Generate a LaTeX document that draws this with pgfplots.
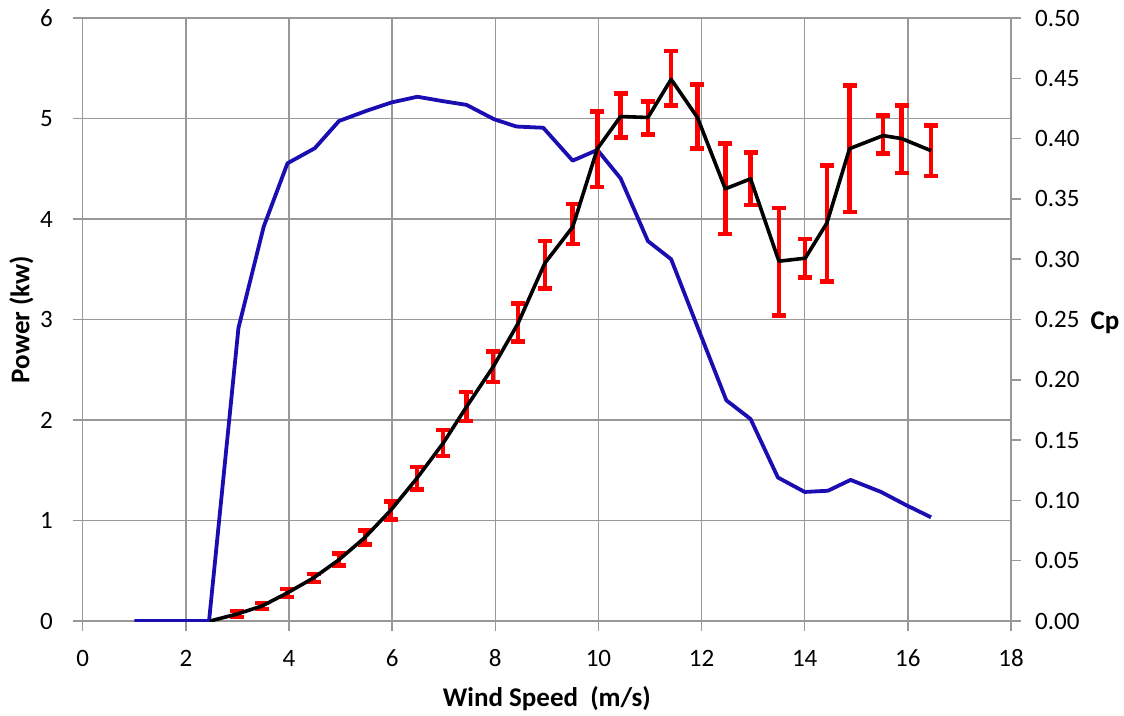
\documentclass[border=0pt]{standalone}
\usepackage{pgfplots}
\pgfplotsset{compat=1.18}
\usepackage{pgfplotstable}
\usepackage{fontspec}
\setmainfont{Carlito}
\definecolor{gridgray}{RGB}{152,152,152}
\definecolor{cpblue}{RGB}{26,14,178}
\definecolor{errred}{RGB}{255,0,0}

\pgfplotstableread{
x y ep em
2.47 0.00 0.00 0.00
3.00 0.07 0.03 0.03
3.48 0.15 0.03 0.03
3.97 0.28 0.04 0.04
4.48 0.43 0.04 0.04
4.97 0.61 0.06 0.06
5.47 0.83 0.07 0.07
5.97 1.10 0.09 0.09
6.48 1.42 0.11 0.11
6.99 1.77 0.13 0.13
7.44 2.13 0.15 0.14
7.96 2.53 0.15 0.15
8.44 2.96 0.20 0.18
8.96 3.56 0.22 0.25
9.50 3.92 0.23 0.17
9.98 4.70 0.37 0.38
10.43 5.02 0.23 0.21
10.96 5.01 0.16 0.17
11.41 5.39 0.28 0.26
11.92 5.01 0.33 0.31
12.46 4.30 0.45 0.45
12.95 4.40 0.26 0.26
13.50 3.58 0.53 0.54
14.01 3.61 0.19 0.19
14.43 3.96 0.57 0.58
14.87 4.70 0.63 0.63
15.52 4.83 0.20 0.18
15.88 4.80 0.33 0.34
16.45 4.68 0.25 0.25
}\powertable

\pgfplotstableread{
x cp
1.00 0.000
2.45 0.000
3.02 0.243
3.51 0.327
3.97 0.3795
4.50 0.392
4.97 0.4146
5.50 0.423
5.99 0.430
6.49 0.4347
6.99 0.431
7.44 0.428
7.98 0.416
8.41 0.410
8.93 0.409
9.50 0.3817
9.98 0.3906
10.43 0.367
10.96 0.315
11.41 0.300
11.92 0.244
12.48 0.183
12.95 0.1675
13.48 0.119
14.00 0.107
14.45 0.108
14.89 0.117
15.48 0.107
15.97 0.096
16.45 0.086
}\cptable

\pgfplotsset{
  base/.style={
    at={(82.7pt,94pt)}, anchor=south west,
    scale only axis, width=928.3pt, height=603pt,
    xmin=0, xmax=18,
    /pgf/number format/assume math mode=true,
    tick label style={font=\fontsize{25}{30}\selectfont, text=black},
    every axis label/.append style={font=\bfseries\fontsize{27}{32}\selectfont, text=black},
    axis line style={draw=gridgray, line width=1.5pt},
    tick style={draw=gridgray, line width=1.5pt},
    major tick length=10pt, tick align=outside,
  }
}

\begin{document}
\begin{tikzpicture}
\path[use as bounding box] (0,0) rectangle (1124pt,715pt);
% grid, bottom and left axes
\begin{axis}[base,
  ymin=0, ymax=6,
  xtick={0,2,4,6,8,10,12,14,16,18},
  ytick={0,1,2,3,4,5,6},
  xtick pos=bottom, ytick pos=left,
  grid=major, grid style={draw=gridgray, line width=1.5pt},
  xticklabel style={anchor=base, inner sep=0pt, yshift=-35.7pt},
  yticklabel style={anchor=east, inner sep=0pt, xshift=-19.7pt},
  xlabel={Wind Speed\ \ (m/s)},
  ylabel={Power (kw)},
  every axis x label/.style={at={([yshift=-85pt]axis description cs:0.5,0)}, anchor=base},
  every axis y label/.style={at={([xshift=-53.4pt]axis description cs:0,0.5)}, rotate=90, anchor=base},
]
\end{axis}
% Cp on the right axis
\begin{axis}[base,
  ymin=0, ymax=0.5,
  xtick=\empty,
  ytick={0,0.05,0.1,0.15,0.2,0.25,0.3,0.35,0.4,0.45,0.5},
  ytick pos=right, yticklabel pos=right,
  yticklabel style={anchor=west, inner sep=0pt, xshift=14pt,
    /pgf/number format/.cd, fixed, fixed zerofill, precision=2},
  ylabel={Cp},
  every axis y label/.style={at={([xshift=76pt,yshift=-10.5pt]axis description cs:1,0.5)}, anchor=base west},
]
\addplot[cpblue, line width=3.8pt, line join=round, mark=none] table[x=x, y=cp] {\cptable};
\end{axis}
% Power with error bars
\begin{axis}[base, ymin=0, ymax=6, hide axis]
\addplot[draw=none, mark=none, skip coords between index={0}{1},
  error bars/.cd, y dir=both, y explicit,
  error bar style={draw=errred, line width=4.5pt},
  error mark options={rotate=90, mark size=7pt, draw=errred, line width=4.5pt}]
  table[x=x, y=y, y error plus=ep, y error minus=em] {\powertable};
\addplot[black, line width=3.6pt, line join=round, mark=none] table[x=x, y=y] {\powertable};
\end{axis}
\end{tikzpicture}
\end{document}
